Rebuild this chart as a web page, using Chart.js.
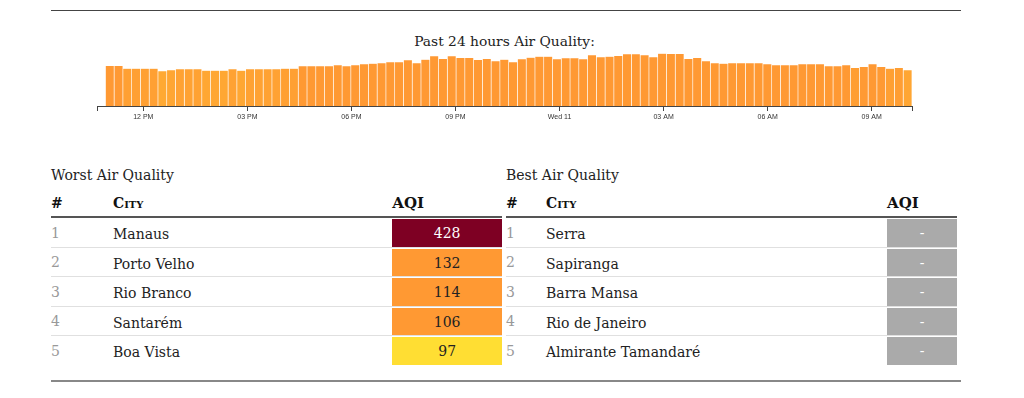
<!DOCTYPE html>
<html>
<head>
<meta charset="utf-8">
<script src="https://cdn.jsdelivr.net/npm/chart.js@4.4.1/dist/chart.umd.min.js"></script>
<style>
  html, body { margin: 0; padding: 0; background: #fff; }
  body { width: 1024px; height: 398px; position: relative; overflow: hidden; font-family: "DejaVu Serif", serif; color: #333; }
  .rule-top { position: absolute; left: 51px; top: 10px; width: 910px; height: 1px; background: #444; }
  .rule-bottom { position: absolute; left: 51px; top: 379.5px; width: 910px; height: 2px; background: #888; }
  .title { position: absolute; left: 97px; width: 815px; top: 33px; text-align: center; font-size: 13.8px; line-height: 16px; color: #222; }
  #chartBox { position: absolute; left: 80px; top: 46px; width: 850px; height: 80px; }
  .sect { position: absolute; top: 166.5px; font-size: 14px; line-height: 16px; color: #222; }
  table { position: absolute; top: 195px; border-collapse: separate; border-spacing: 0; table-layout: fixed; width: 451px; font-size: 14px; }
  th { text-align: left; padding: 0 0 5px 0; height: 16px; line-height: 16px; border-bottom: 2px solid #555; font-weight: bold; color: #111; }
  th.city { font-variant: small-caps; }
  th.aqih { font-size: 15px; }
  td { padding: 1px 0 0 0; border-bottom: 1px solid #e0e0e0; height: 27.5px; line-height: 16px; vertical-align: middle; }
  tr:last-child td { border-bottom: none; }
  td.rank { color: #999; }
  td.name { color: #222; padding-top: 4px; height: 24.5px; }
  .box { height: 27.5px; line-height: 29px; text-align: center; }
</style>
</head>
<body>
<div class="rule-top"></div>
<div class="title">Past 24 hours Air Quality:</div>
<div id="chartBox"><canvas id="c" width="850" height="80"></canvas></div>

<div class="sect" style="left:51px">Worst Air Quality</div>
<div class="sect" style="left:506px">Best Air Quality</div>

<table id="worst" style="left:51px">
  <colgroup><col style="width:62px"><col style="width:279.3px"><col style="width:109.7px"></colgroup>
  <thead><tr><th>#</th><th class="city">City</th><th class="aqih">AQI</th></tr></thead>
  <tbody></tbody>
</table>
<table id="best" style="left:506px">
  <colgroup><col style="width:40px"><col style="width:341px"><col style="width:70px"></colgroup>
  <thead><tr><th>#</th><th class="city">City</th><th class="aqih">AQI</th></tr></thead>
  <tbody></tbody>
</table>

<div class="rule-bottom"></div>

<script>
// ---- data ----
// AQI readings over the past 24 h (about one every 15 min)
const aqiValues = [
  120, 120, 112, 112, 112, 112, 104, 107, 110, 110,
  110, 106, 106, 106, 110, 106, 110, 110, 110, 110,
  112, 112, 119, 119, 119, 119, 122, 119, 122, 125,
  127, 128, 131, 131, 137, 128, 139, 149, 141, 149,
  144, 144, 138, 141, 134, 139, 131, 140, 145, 148,
  148, 140, 143, 143, 140, 152, 146, 148, 150, 155,
  155, 152, 146, 157, 156, 156, 141, 144, 134, 128,
  127, 128, 128, 128, 128, 125, 122, 122, 122, 125,
  125, 125, 119, 119, 122, 114, 117, 125, 117, 112,
  114, 107
];
const seriesStartHour = 10.916;   // first reading (hours since midnight, day 10)
const seriesEndHour = 34.17;      // end of the last reading
const axisStartHour = 10.674;
const axisEndHour = 34.17;
const tickHours = [12, 15, 18, 21, 24, 27, 30, 33];
const tickLabels = ['12 PM', '03 PM', '06 PM', '09 PM', 'Wed 11', '03 AM', '06 AM', '09 AM'];

const worstCities = ['Manaus', 'Porto Velho', 'Rio Branco', 'Santarém', 'Boa Vista'];
const worstAqi = [428, 132, 114, 106, 97];
const bestCities = ['Serra', 'Sapiranga', 'Barra Mansa', 'Rio de Janeiro', 'Almirante Tamandaré'];
const bestAqi = [null, null, null, null, null];

// ---- helpers ----
function aqiColor(v) {
  if (v == null) return '#aaaaaa';
  if (v <= 50) return '#009966';
  if (v <= 100) return '#ffde33';
  if (v <= 150) return '#ff9933';
  if (v <= 200) return '#cc0033';
  if (v <= 300) return '#660099';
  return '#7e0023';
}
function barColor(v) {
  // lower readings fade slightly toward yellow
  const f = Math.max(0, Math.min(1, (118 - v) / 60));
  const g = Math.round(0x99 + f * (0xde - 0x99));
  return 'rgb(255,' + g + ',51)';
}
function textColor(v) {
  if (v == null) return '#fff';
  return v > 200 ? '#fff' : '#222';
}

function fillTable(id, cities, vals) {
  const tb = document.querySelector('#' + id + ' tbody');
  cities.forEach((c, i) => {
    const tr = document.createElement('tr');
    const v = vals[i];
    tr.innerHTML = '<td class="rank">' + (i + 1) + '</td><td class="name">' + c + '</td>' +
      '<td class="aqi"><div class="box" style="background:' + aqiColor(v) + ';color:' + textColor(v) + '">' +
      (v == null ? '-' : v) + '</div></td>';
    tb.appendChild(tr);
  });
}
fillTable('worst', worstCities, worstAqi);
fillTable('best', bestCities, bestAqi);

// ---- chart ----
const step = (seriesEndHour - seriesStartHour) / aqiValues.length;
const points = aqiValues.map((v, i) => ({ x: seriesStartHour + (i + 0.5) * step, y: v }));
const allTickValues = [axisStartHour, ...tickHours, axisEndHour];
const allTickLabels = ['', ...tickLabels, ''];

new Chart(document.getElementById('c'), {
  type: 'bar',
  data: {
    datasets: [{
      data: points,
      backgroundColor: aqiValues.map(barColor),
      borderColor: 'rgba(255,255,255,0.45)',
      borderWidth: { left: 0, right: 1, top: 0, bottom: 0 },
      barPercentage: 1,
      categoryPercentage: 1
    }]
  },
  options: {
    responsive: false,
    animation: false,
    devicePixelRatio: 1,
    layout: { padding: { left: 17.3, right: 17.7, top: 0, bottom: 0 } },
    plugins: { legend: { display: false }, tooltip: { enabled: false }, title: { display: false } },
    scales: {
      x: {
        type: 'linear',
        offset: false,
        min: axisStartHour,
        max: axisEndHour,
        afterBuildTicks: (s) => { s.ticks = allTickValues.map(v => ({ value: v })); },
        afterFit: (s) => { s.height = 20; },
        ticks: {
          autoSkip: false, maxRotation: 0, padding: 2,
          font: { family: 'Liberation Sans, Arial, sans-serif', size: 7 },
          color: '#333',
          callback: (val, idx) => allTickLabels[idx]
        },
        grid: { display: true, offset: false, drawOnChartArea: false, drawTicks: true, tickLength: 5, color: '#444', lineWidth: 1 },
        border: { display: true, color: '#444', width: 1 }
      },
      y: { display: false, min: 0, max: 180 }
    }
  }
});
</script>
</body>
</html>
